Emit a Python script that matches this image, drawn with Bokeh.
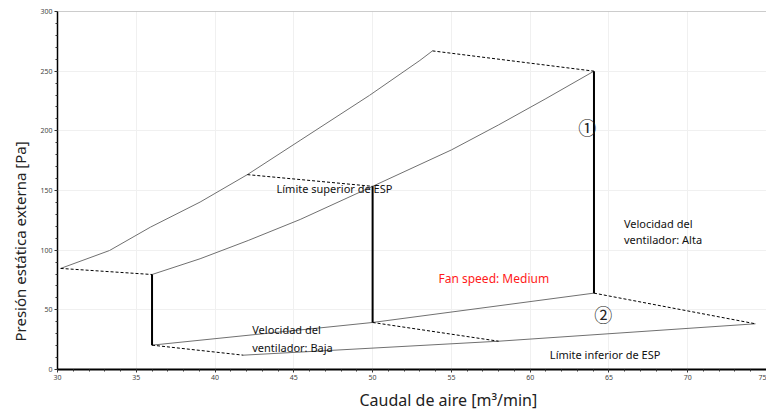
from bokeh.plotting import figure
from bokeh.models import Range1d, Span, FixedTicker, Label, Title
from bokeh.embed import file_html
from bokeh.resources import INLINE

# Upper ESP limit curve
upper_x = [30.2, 33.3, 35.9, 39.05, 42.05, 45.4, 49.8, 53.0, 53.8]
upper_y = [84.7, 99.7, 119.3, 140.3, 163.3, 192.0, 229.7, 259.0, 267.0]
# High speed curve
high_x = [36.0, 39.05, 42.1, 45.4, 50.0, 55.0, 58.0, 61.0, 64.05]
high_y = [79.6, 92.8, 108.1, 125.7, 153.5, 184.0, 205.0, 227.0, 250.0]
# Low-side curve (bottom of vertical bars)
low_x = [36.0, 50.0, 64.05]
low_y = [20.4, 39.4, 64.0]
# Lower ESP limit
lower_x = [41.8, 58.0, 74.3]
lower_y = [12.0, 23.7, 38.3]
# dashed connectors
dash_segments = [
    ([30.2, 36.0], [84.7, 79.6]),
    ([42.05, 50.0], [163.3, 153.5]),
    ([53.8, 64.05], [267.0, 250.0]),
    ([36.0, 41.8], [20.4, 12.0]),
    ([50.0, 58.0], [39.4, 23.7]),
    ([64.05, 74.3], [64.0, 38.3]),
]
# vertical operating bars
bar_x = [36.0, 50.0, 64.05]
bar_top = [79.6, 153.5, 250.0]
bar_bottom = [20.4, 39.4, 64.0]

x_ticks = [30, 35, 40, 45, 50, 55, 60, 65, 70, 75]
y_ticks = [0, 50, 100, 150, 200, 250, 300]

FONT = "Noto Sans"

p = figure(width=766, height=414, output_backend="svg", toolbar_location=None,
           x_range=Range1d(30, 75), y_range=Range1d(0, 300),
           min_border_left=57, min_border_right=0, min_border_top=11, min_border_bottom=45)
p.outline_line_color = None
p.background_fill_color = "white"
p.border_fill_color = "white"

p.xaxis.ticker = FixedTicker(ticks=x_ticks, minor_ticks=list(range(30, 76)))
p.yaxis.ticker = FixedTicker(ticks=y_ticks, minor_ticks=list(range(0, 301, 10)))
for ax in (p.xaxis, p.yaxis):
    ax.axis_line_color = "black"
    ax.major_tick_line_color = "#333333"
    ax.minor_tick_line_color = "#333333"
    ax.major_tick_in = 0
    ax.major_tick_out = 3
    ax.minor_tick_in = 0
    ax.minor_tick_out = 2
    ax.major_label_text_font_size = "7px"
    ax.major_label_text_color = "#444444"
    ax.major_label_text_font = FONT
    ax.major_label_standoff = 2
p.xaxis.axis_line_width = 2
p.yaxis.axis_line_width = 1.5

p.xgrid.ticker = FixedTicker(ticks=x_ticks)
p.ygrid.ticker = FixedTicker(ticks=y_ticks)
p.grid.grid_line_color = "#f0f0f0"
p.grid.grid_line_width = 1

p.add_layout(Span(location=300, dimension="width", line_color="#999999", line_width=1.2))

curve_color = "#707070"
p.line(upper_x, upper_y, line_color=curve_color, line_width=1)
p.line(high_x, high_y, line_color=curve_color, line_width=1)
p.line(low_x, low_y, line_color=curve_color, line_width=1)
p.line(lower_x, lower_y, line_color=curve_color, line_width=1)
for xs, ys in dash_segments:
    p.line(xs, ys, line_color="black", line_width=1, line_dash="3 2")
p.segment(x0=bar_x, y0=bar_bottom, x1=bar_x, y1=bar_top, line_color="black", line_width=2)

def add_text(x, y, txt, size="11px", color="#111111", align="left", font=FONT):
    p.add_layout(Label(x=x, y=y, text=txt, text_font=font, text_font_size=size,
                       text_color=color, text_align=align, text_baseline="middle"))

add_text(43.9, 151.7, "Límite superior de ESP")
add_text(61.25, 12.6, "Límite inferior de ESP")
add_text(65.95, 122.6, "Velocidad del")
add_text(65.95, 108.7, "ventilador: Alta")
add_text(42.36, 33.3, "Velocidad del")
add_text(42.36, 18.7, "ventilador: Baja")
add_text(54.18, 76.5, "Fan speed: Medium", size="12px", color="#ff1a1a")
add_text(63.63, 203.0, "①", size="18px", color="#222222", align="center", font="Noto Sans CJK JP")
add_text(64.64, 46.7, "②", size="18px", color="#222222", align="center", font="Noto Sans CJK JP")

# axis titles as panel titles (allow offsets like the reference)
xt = Title(text="Caudal de aire [m³/min]", align="left", offset=302, standoff=8,
           text_font=FONT, text_font_size="16px", text_font_style="normal",
           text_color="#222222")
p.add_layout(xt, "below")
yt = Title(text="Presión estática externa [Pa]", align="left", offset=28, standoff=15,
           text_font=FONT, text_font_size="15px", text_font_style="normal",
           text_color="#222222")
p.add_layout(yt, "left")

open("out.html", "w").write(file_html(p, INLINE))
